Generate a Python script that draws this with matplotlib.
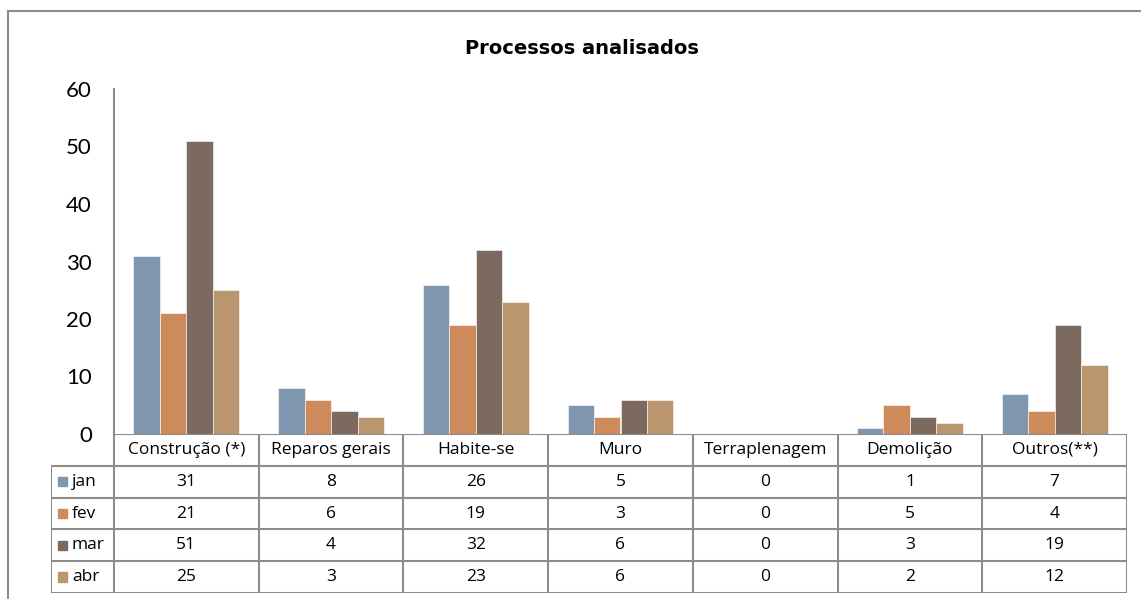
import matplotlib
matplotlib.use('Agg')
import matplotlib.pyplot as plt
import numpy as np
from matplotlib.patches import Rectangle

categories = ['Construção (*)', 'Reparos gerais', 'Habite-se', 'Muro',
              'Terraplenagem', 'Demolição', 'Outros(**)']
months = ['jan', 'fev', 'mar', 'abr']
jan = [31, 8, 26, 5, 0, 1, 7]
fev = [21, 6, 19, 3, 0, 5, 4]
mar = [51, 4, 32, 6, 0, 3, 19]
abr = [25, 3, 23, 6, 0, 2, 12]
series = [jan, fev, mar, abr]
y_ticks = [0, 10, 20, 30, 40, 50, 60]

colors = ['#7F97AE', '#CD8B5C', '#7C6A5E', '#B9966E']
grey = '#8C8C8C'

W, H = 1141, 599
fig = plt.figure(figsize=(W / 100, H / 100), dpi=100)

# outer chart frame (left and top border only visible)
fig.add_artist(plt.Line2D([8 / W, 8 / W], [0, 1 - 11 / H], color=grey, lw=1.5))
fig.add_artist(plt.Line2D([8 / W, 1], [1 - 11 / H, 1 - 11 / H], color=grey, lw=1.5))

# plot area in pixels
x0, x1 = 114, 1127
ytop, ybot = 89, 434
ax = fig.add_axes([x0 / W, 1 - ybot / H, (x1 - x0) / W, (ybot - ytop) / H])

n = len(categories)
idx = np.arange(n) + 0.5
bw = 0.183
for i, vals in enumerate(series):
    ax.bar(idx + (i - 1.5) * bw, vals, bw, color=colors[i],
           edgecolor='white', linewidth=0.4)

ax.set_xlim(0, n)
ax.set_ylim(0, 60)
ax.set_yticks(y_ticks)
ax.set_yticklabels([str(t) for t in y_ticks], fontsize=16, family='Lato')
ax.tick_params(axis='y', length=0, pad=16)
ax.set_xticks([])
for s in ['top', 'right', 'bottom']:
    ax.spines[s].set_visible(False)
ax.spines['left'].set_color(grey)
ax.spines['left'].set_linewidth(1.5)

fig.text(582 / W, 1 - 48 / H, 'Processos analisados', ha='center', va='center',
         fontsize=14, fontweight='bold', family='DejaVu Sans')

# data table below the axis
lab_x = 51
tbot = 593
tax = fig.add_axes([lab_x / W, 1 - tbot / H, (x1 - lab_x) / W, (tbot - ybot) / H])
lab_w = (x0 - lab_x) / ((x1 - x0) / n)
tax.set_xlim(-lab_w, n)
tax.set_ylim(len(months) + 1, 0)
tax.axis('off')

lkw = dict(color=grey, lw=1.5, solid_capstyle='projecting')
# horizontal lines
tax.plot([0, n], [0, 0], **lkw)
for r in range(1, len(months) + 2):
    tax.plot([-lab_w, n], [r, r], **lkw)
# vertical lines
tax.plot([-lab_w, -lab_w], [1, len(months) + 1], **lkw)
for c in range(n + 1):
    tax.plot([c, c], [0, len(months) + 1], **lkw)

tfont = dict(fontsize=12.5, family='Open Sans', ha='center', va='center')
for c, cat in enumerate(categories):
    tax.text(c + 0.5, 0.5, cat, **tfont)
for r, (m, vals) in enumerate(zip(months, series)):
    for c, v in enumerate(vals):
        tax.text(c + 0.5, r + 1.5, str(v), **tfont)
    tax.add_patch(Rectangle((-lab_w + 0.048, r + 1.5 - 0.15), 0.066, 0.30,
                            color=colors[r], clip_on=False))
    tax.text(-lab_w + 0.145, r + 1.5, m, fontsize=12.5, family='Open Sans',
             ha='left', va='center')

fig.savefig('out.png', dpi=100)
